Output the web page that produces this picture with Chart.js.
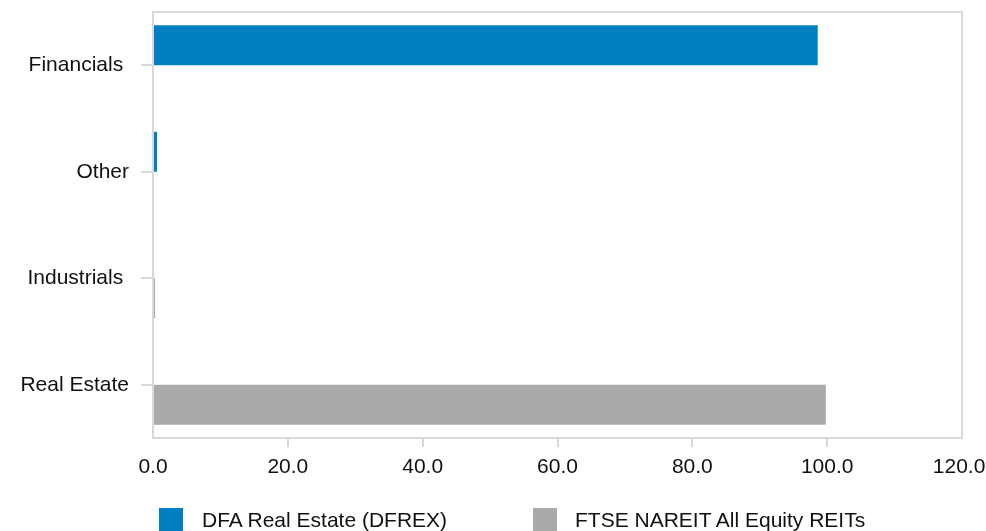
<!DOCTYPE html>
<html>
<head>
<meta charset="utf-8">
<script src="https://cdn.jsdelivr.net/npm/chart.js@4.4.1/dist/chart.umd.min.js"></script>
<style>
  html, body { margin: 0; padding: 0; background: #fff; }
  #wrap { position: relative; width: 986px; height: 531px; }
  #chart { position: absolute; left: 0; top: 0; }
  .legend { position: absolute; top: 508px; font-family: "Liberation Sans", Arial, sans-serif; font-size: 21px; color: #111; white-space: nowrap; }
  .legend .box { position: absolute; left: 0; top: 0; width: 24px; height: 24px; }
  .legend .txt { position: absolute; top: 0; line-height: 24px; }
</style>
</head>
<body>
<div id="wrap">
  <canvas id="chart" width="986" height="531"></canvas>
  <div class="legend" id="leg0" style="left:159px"><span class="box"></span><span class="txt" style="left:43px"></span></div>
  <div class="legend" id="leg1" style="left:533px"><span class="box"></span><span class="txt" style="left:42px"></span></div>
</div>
<script>
// Sector weights (%) for the fund and its benchmark
const categories = ["Financials ", "Other", "Industrials ", "Real Estate"];
const seriesNames = ["DFA Real Estate (DFREX)", "FTSE NAREIT All Equity REITs"];
const dfaValues = [98.6, 0.6, 0, 0];
const ftseValues = [0, 0, 0.3, 99.8];
const xTicks = [0, 20, 40, 60, 80, 100, 120];

const colors = ["#0080c1", "#aaaaaa"];
const font = { family: '"Liberation Sans", Arial, sans-serif', size: 21 };
const lineColor = "#d9d9d9";
const textColor = "#111";
const xMin = xTicks[0];
const xMax = xTicks[xTicks.length - 1];

// Light frame around the plotting area
const frame = {
  id: "frame",
  beforeDatasetsDraw(chart) {
    const { ctx, chartArea: a } = chart;
    ctx.save();
    ctx.strokeStyle = lineColor;
    ctx.lineWidth = 2;
    ctx.strokeRect(a.left, a.top, a.right - a.left, a.bottom - a.top);
    ctx.restore();
  }
};

const chart = new Chart(document.getElementById("chart"), {
  type: "bar",
  data: {
    labels: categories,
    datasets: [
      { label: seriesNames[0], data: dfaValues, backgroundColor: colors[0] },
      { label: seriesNames[1], data: ftseValues, backgroundColor: colors[1] }
    ]
  },
  options: {
    indexAxis: "y",
    responsive: false,
    animation: false,
    layout: { padding: { top: 12, right: 24, bottom: 0, left: 0 } },
    datasets: { bar: { categoryPercentage: 0.75, barPercentage: 1 } },
    plugins: { legend: { display: false }, tooltip: { enabled: false } },
    scales: {
      x: {
        min: xMin,
        max: xMax,
        afterBuildTicks(scale) { scale.ticks = xTicks.map(v => ({ value: v })); },
        afterFit(scale) {
          scale.height = 93;
          scale.paddingLeft = 0;
          scale.paddingRight = 0;
        },
        grid: {
          drawOnChartArea: false,
          tickLength: 9,
          lineWidth: 2,
          color: lineColor,
          // no tick marks at the two ends of the axis
          tickColor: c => (c.tick && (c.tick.value === xMin || c.tick.value === xMax)) ? "rgba(0,0,0,0)" : lineColor
        },
        border: { display: false },
        ticks: {
          font, color: textColor, padding: 8,
          // keep the last label inside the canvas
          callback: v => Number(v).toFixed(1) + (v === xMax ? " " : "")
        }
      },
      y: {
        afterFit(scale) {
          scale.width = 153;
          scale.paddingTop = 0;
          scale.paddingBottom = 0;
        },
        grid: { drawOnChartArea: false, offset: false, tickLength: 12, color: lineColor, lineWidth: 2 },
        border: { display: false },
        ticks: { font, color: textColor, padding: 12 }
      }
    }
  },
  plugins: [frame]
});

// Legend below the chart
seriesNames.forEach((name, i) => {
  const el = document.getElementById("leg" + i);
  el.querySelector(".box").style.background = colors[i];
  el.querySelector(".txt").textContent = name;
});
</script>
</body>
</html>
